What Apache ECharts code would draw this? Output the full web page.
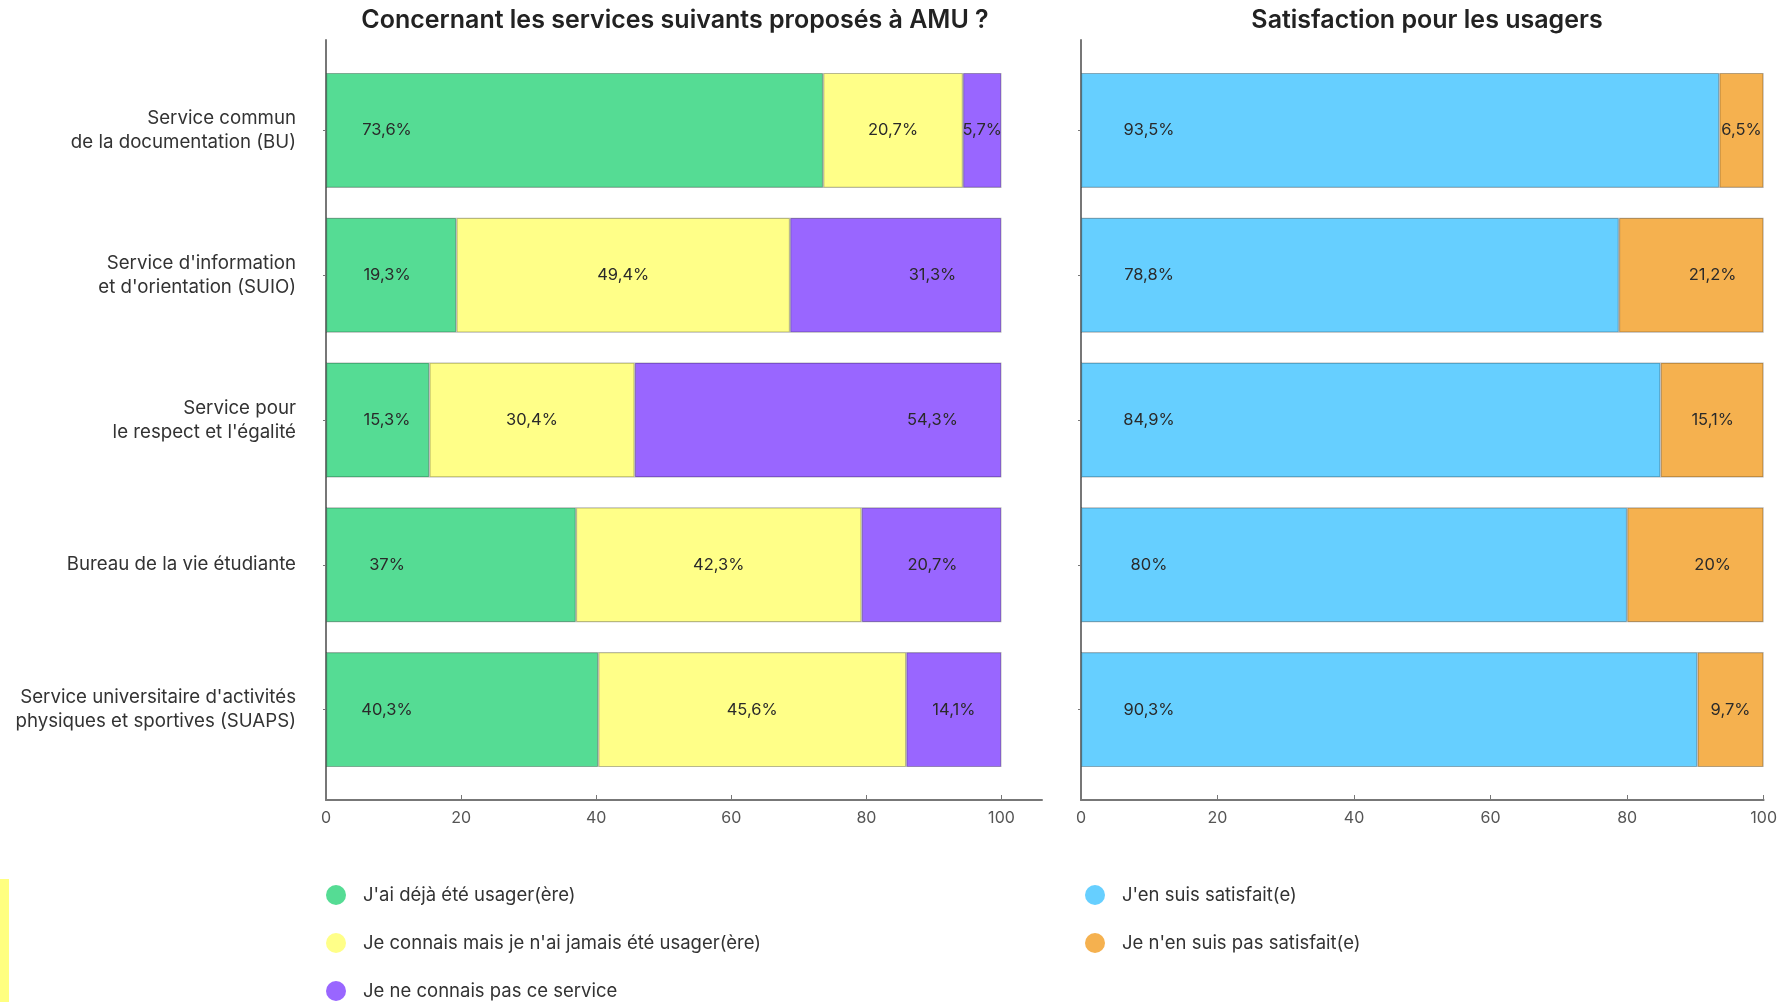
<!DOCTYPE html>
<html>
<head>
<meta charset="utf-8">
<script src="https://cdn.jsdelivr.net/npm/echarts@6/dist/echarts.min.js"></script>
<style>
html,body{margin:0;padding:0;background:#fff;}
#c{width:1780px;height:1002px;}
</style>
</head>
<body>
<div id="c"></div>
<script>
const categories = [
  "Service commun\nde la documentation (BU)",
  "Service d'information\net d'orientation (SUIO)",
  "Service pour\nle respect et l'égalité",
  "Bureau de la vie étudiante",
  "Service universitaire d'activités\nphysiques et sportives (SUAPS)"
];
const usedValues = [73.6, 19.3, 15.3, 37, 40.3];
const knownValues = [20.7, 49.4, 30.4, 42.3, 45.6];
const unknownValues = [5.7, 31.3, 54.3, 20.7, 14.1];
const satisfiedValues = [93.5, 78.8, 84.9, 80, 90.3];
const notSatisfiedValues = [6.5, 21.2, 15.1, 20, 9.7];
const tickValues = [0, 20, 40, 60, 80, 100];

const leftTitle = "Concernant les services suivants proposés à AMU ?";
const rightTitle = "Satisfaction pour les usagers";
const seriesNames = {
  used: "J'ai déjà été usager(ère)",
  known: "Je connais mais je n'ai jamais été usager(ère)",
  unknown: "Je ne connais pas ce service",
  sat: "J'en suis satisfait(e)",
  notSat: "Je n'en suis pas satisfait(e)"
};
const colors = {
  used: '#55DC94', known: '#FFFF88', unknown: '#9966FF',
  sat: '#66CFFF', notSat: '#F5B14F'
};

const FONT = 'Inter, Roboto, sans-serif';
const fmt = v => String(v).replace('.', ',') + '%';

const chart = echarts.init(document.getElementById('c'));

const L = {left: 326, width: 716, unit: 6.75};
const R = {left: 1081, width: 684, unit: 6.84};
const barTop = 58, barH = 724, frameTop = 40, frameH = 760;

const baseLabel = {
  show: true, fontFamily: FONT, fontSize: 16.5, color: '#2a2a2a',
  align: 'center', verticalAlign: 'middle',
  formatter: p => fmt(p.value)
};
const itemBorder = {borderColor: 'rgba(0,0,0,0.28)', borderWidth: 1.2};

function fixedStart(vals, off) {
  return vals.map(v => ({value: v, label: {position: [off, '50%']}}));
}
function endOrCenter(vals, unit, off) {
  return vals.map(v => (v * unit / 2 >= off)
    ? {value: v, label: {position: ['100%', '50%'], offset: [-off, 0]}}
    : {value: v, label: {position: 'inside'}});
}

function valueAxis(gridIndex, max) {
  return {
    type: 'value', gridIndex, min: 0, max,
    offset: 18,
    axisLine: {show: true, lineStyle: {color: '#777', width: 2}},
    axisTick: {show: true, inside: true, length: 5, lineStyle: {color: '#777'}, customValues: tickValues},
    axisLabel: {fontFamily: FONT, fontSize: 16, color: '#555', margin: 10, customValues: tickValues},
    splitLine: {show: false}
  };
}
function catAxis(gridIndex, showLabels) {
  return {
    type: 'category', gridIndex, data: categories, inverse: true,
    axisLine: {show: false},
    axisTick: {show: true, alignWithLabel: true, length: 3, lineStyle: {color: '#777'}},
    axisLabel: {show: showLabels, fontFamily: FONT, fontSize: 18.7, color: '#333', lineHeight: 24, margin: 30, align: 'right'}
  };
}
function frameY(gridIndex) {
  return {type: 'value', gridIndex, min: 0, max: 1,
    axisLine: {show: true, lineStyle: {color: '#777', width: 2}},
    axisTick: {show: false}, axisLabel: {show: false}, splitLine: {show: false}};
}
function frameX(gridIndex) {
  return {type: 'value', gridIndex, min: 0, max: 1, show: false};
}
function legendOf(left, names) {
  return {orient: 'vertical', left, top: 885, padding: 0,
    itemWidth: 20, itemHeight: 20, itemGap: 28, icon: 'circle',
    itemStyle: {borderWidth: 0},
    data: names,
    textStyle: {fontFamily: FONT, fontSize: 18.5, color: '#333', padding: [0, 0, 0, 12]}};
}

chart.setOption({
  animation: false,
  backgroundColor: '#fff',
  title: [
    {text: leftTitle, left: 670, top: 3, textAlign: 'center',
     textStyle: {fontFamily: FONT, fontSize: 25, fontWeight: 600, color: '#222'}},
    {text: rightTitle, left: 1422, top: 3, textAlign: 'center',
     textStyle: {fontFamily: FONT, fontSize: 25, fontWeight: 600, color: '#222'}}
  ],
  legend: [
    legendOf(326, [seriesNames.used, seriesNames.known, seriesNames.unknown]),
    legendOf(1085, [seriesNames.sat, seriesNames.notSat])
  ],
  grid: [
    {left: L.left, top: barTop, width: L.width, height: barH},
    {left: R.left, top: barTop, width: R.width, height: barH},
    {left: L.left, top: frameTop, width: L.width, height: frameH},
    {left: R.left, top: frameTop, width: R.width, height: frameH}
  ],
  xAxis: [valueAxis(0, 106), valueAxis(1, 100), frameX(2), frameX(3)],
  yAxis: [catAxis(0, true), catAxis(1, false), frameY(2), frameY(3)],
  graphic: [
    {type: 'rect', left: 0, top: 879, shape: {width: 9, height: 123}, style: {fill: '#FFFF80'}}
  ],
  series: [
    {name: seriesNames.used, type: 'bar', stack: 'L', xAxisIndex: 0, yAxisIndex: 0, barWidth: 115,
     itemStyle: Object.assign({color: colors.used}, itemBorder), label: baseLabel,
     data: fixedStart(usedValues, 61)},
    {name: seriesNames.known, type: 'bar', stack: 'L', xAxisIndex: 0, yAxisIndex: 0, barWidth: 115,
     itemStyle: Object.assign({color: colors.known}, itemBorder),
     label: Object.assign({}, baseLabel, {position: 'inside'}),
     data: knownValues},
    {name: seriesNames.unknown, type: 'bar', stack: 'L', xAxisIndex: 0, yAxisIndex: 0, barWidth: 115,
     itemStyle: Object.assign({color: colors.unknown}, itemBorder), label: baseLabel,
     data: endOrCenter(unknownValues, L.unit, 69)},
    {name: seriesNames.sat, type: 'bar', stack: 'R', xAxisIndex: 1, yAxisIndex: 1, barWidth: 115,
     itemStyle: Object.assign({color: colors.sat}, itemBorder), label: baseLabel,
     data: fixedStart(satisfiedValues, 68)},
    {name: seriesNames.notSat, type: 'bar', stack: 'R', xAxisIndex: 1, yAxisIndex: 1, barWidth: 115,
     itemStyle: Object.assign({color: colors.notSat}, itemBorder), label: baseLabel,
     data: endOrCenter(notSatisfiedValues, R.unit, 51)}
  ]
});
</script>
</body>
</html>
